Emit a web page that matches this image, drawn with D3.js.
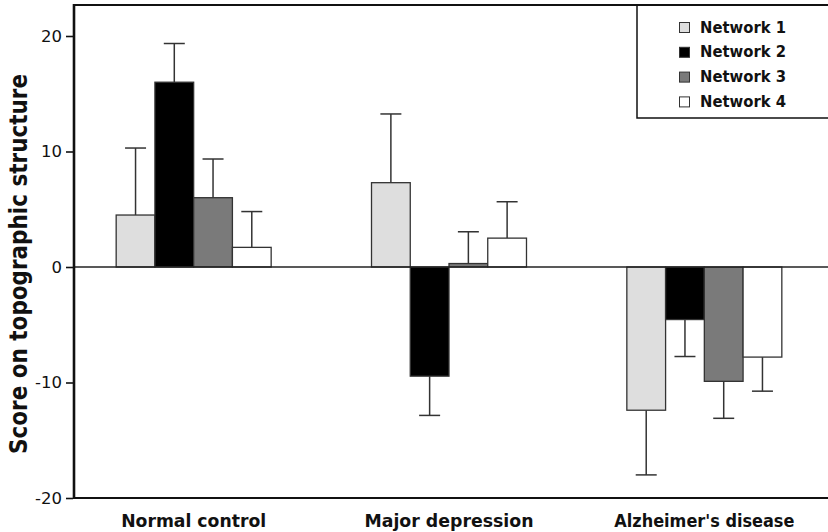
<!DOCTYPE html>
<html>
<head>
<meta charset="utf-8">
<script src="https://cdn.jsdelivr.net/npm/d3@7"></script>
<style>
  body { margin: 0; background: #fff; }
  svg { display: block; }
</style>
</head>
<body>
<svg id="chart" width="828" height="532"></svg>
<script>
const categories = ["Normal control", "Major depression", "Alzheimer's disease"];
const seriesNames = ["Network 1", "Network 2", "Network 3", "Network 4"];
const network1 = [4.5, 7.3, -12.4];
const network2 = [16.0, -9.45, -4.55];
const network3 = [6.0, 0.3, -9.9];
const network4 = [1.7, 2.5, -7.8];
const err1 = [5.8, 5.95, 5.6];
const err2 = [3.35, 3.4, 3.2];
const err3 = [3.35, 2.75, 3.2];
const err4 = [3.1, 3.15, 2.95];
const yTicks = [-20, -10, 0, 10, 20];
const yTitle = "Score on topographic structure";

const values = [network1, network2, network3, network4];
const errors = [err1, err2, err3, err4];
const colors = ["#dedede", "#000000", "#7a7a7a", "#ffffff"];

const svg = d3.select("#chart");

const y = d3.scaleLinear().domain([-20, 20]).range([498, 36]);
const x0 = d3.scaleBand().domain(categories).range([66, 832])
  .paddingInner(0.393).paddingOuter(0.1965);
const x1 = d3.scaleBand().domain(seriesNames).range([0, x0.bandwidth()]).padding(0);

const data = [];
categories.forEach((c, ci) => {
  seriesNames.forEach((s, si) => {
    data.push({cat: c, series: s, si, v: values[si][ci], e: errors[si][ci]});
  });
});

const plotLeft = 74, plotRight = 828, plotTop = 5, plotBottom = 498;

// error bars
const eb = svg.append("g").attr("stroke", "#333").attr("stroke-width", 1.5);
data.forEach(d => {
  const cx = x0(d.cat) + x1(d.series) + x1.bandwidth() / 2;
  const end = d.v >= 0 ? d.v + d.e : d.v - d.e;
  eb.append("line").attr("x1", cx).attr("x2", cx).attr("y1", y(d.v)).attr("y2", y(end));
  eb.append("line").attr("x1", cx - 10.5).attr("x2", cx + 10.5).attr("y1", y(end)).attr("y2", y(end));
});

// bars
svg.append("g").selectAll("rect").data(data).join("rect")
  .attr("x", d => x0(d.cat) + x1(d.series))
  .attr("width", x1.bandwidth())
  .attr("y", d => y(Math.max(0, d.v)))
  .attr("height", d => Math.abs(y(d.v) - y(0)))
  .attr("fill", d => colors[d.si])
  .attr("stroke", "#333")
  .attr("stroke-width", 1.3);

// zero line
svg.append("line").attr("x1", plotLeft).attr("x2", plotRight)
  .attr("y1", y(0)).attr("y2", y(0)).attr("stroke", "#222").attr("stroke-width", 1.6);

// frame: top, bottom, left
svg.append("line").attr("x1", plotLeft).attr("x2", plotRight)
  .attr("y1", plotTop).attr("y2", plotTop).attr("stroke", "#111").attr("stroke-width", 2.2);
svg.append("line").attr("x1", plotLeft).attr("x2", plotRight)
  .attr("y1", plotBottom).attr("y2", plotBottom).attr("stroke", "#111").attr("stroke-width", 2.2);
svg.append("line").attr("x1", plotLeft).attr("x2", plotLeft)
  .attr("y1", plotTop - 1).attr("y2", plotBottom + 1).attr("stroke", "#111").attr("stroke-width", 2.6);

// y axis ticks
const yAxis = d3.axisLeft(y).tickValues(yTicks).tickSize(7).tickPadding(4)
  .tickFormat(d => String(d));
const ga = svg.append("g").attr("transform", `translate(${plotLeft - 1},0)`).call(yAxis);
ga.select(".domain").remove();
ga.selectAll(".tick line").attr("stroke", "#111").attr("stroke-width", 1.6);
ga.selectAll(".tick text").attr("font-family", "DejaVu Sans").attr("font-size", 16.5)
  .attr("fill", "#111");

// y title
svg.append("text")
  .attr("transform", `translate(27,264) rotate(-90)`)
  .attr("text-anchor", "middle")
  .attr("font-family", "DejaVu Sans").attr("font-weight", "bold").attr("font-size", 24)
  .attr("textLength", 380).attr("lengthAdjust", "spacingAndGlyphs")
  .attr("fill", "#111")
  .text(yTitle);

// x labels
const xLabelWidths = [145, 169, 180];
svg.append("g").selectAll("text").data(categories).join("text")
  .attr("x", d => x0(d) + x0.bandwidth() / 2)
  .attr("y", 527)
  .attr("text-anchor", "middle")
  .attr("font-family", "DejaVu Sans").attr("font-weight", "bold").attr("font-size", 18.5)
  .attr("textLength", (d, i) => xLabelWidths[i]).attr("lengthAdjust", "spacingAndGlyphs")
  .attr("fill", "#111")
  .text(d => d);

// legend
const lg = svg.append("g");
lg.append("path").attr("d", `M637,${plotTop}V118H828`).attr("fill", "none")
  .attr("stroke", "#111").attr("stroke-width", 1.5);
seriesNames.forEach((s, i) => {
  const base = 32.5 + i * 24.8;
  lg.append("rect").attr("x", 679.5).attr("y", base - 10).attr("width", 10).attr("height", 10)
    .attr("fill", colors[i]).attr("stroke", "#333").attr("stroke-width", 1);
  lg.append("text").attr("x", 700).attr("y", base)
    .attr("font-family", "DejaVu Sans").attr("font-weight", "bold").attr("font-size", 15)
    .attr("textLength", 86).attr("lengthAdjust", "spacingAndGlyphs")
    .attr("fill", "#111").text(s);
});
</script>
</body>
</html>
